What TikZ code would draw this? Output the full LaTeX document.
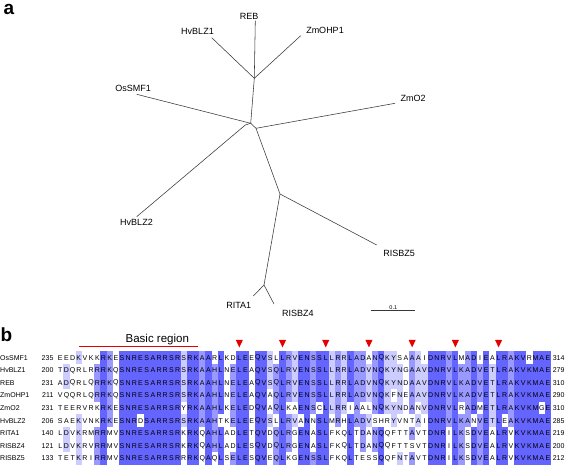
\documentclass[tikz,border=0pt]{standalone}
\usepackage{fontspec}
\setmainfont{Liberation Sans}
\definecolor{aldark}{RGB}{100,100,255}
\definecolor{almid}{RGB}{153,153,255}
\definecolor{allight}{RGB}{204,204,255}
\definecolor{treeline}{RGB}{55,55,55}
\definecolor{markred}{RGB}{230,0,0}
\tikzset{
  leaflabel/.style={font=\fontsize{9}{10}\selectfont, inner sep=0pt},
  branch/.style={draw=treeline, line width=0.55pt},
  alres/.style={font=\fontsize{7}{8}\selectfont, inner sep=0pt},
  alname/.style={font=\fontsize{7}{8}\selectfont, inner sep=0pt, anchor=west},
  alnum/.style={font=\fontsize{7}{8}\selectfont, inner sep=0pt},
  panel/.style={font=\fontsize{19}{21}\selectfont\bfseries, inner sep=0pt, anchor=base west, text height=0.56em},
}
\newcommand\AlCell[3]{\fill[#3] ({60.3+(#2-1)*6.173-3.09},{351.4+(#1-1)*12.6}) rectangle ++(6.19,12.62);}
\newcommand\AlLetter[3]{\node[alres] (r#1c#2) at ({60.3+(#2-1)*6.173},{357.7+(#1-1)*12.6}) {#3};}
\ExplSyntaxOn
\int_new:N \l_al_cnt_int
\int_new:N \l_al_max_int
\int_new:N \g_al_nrows_int
\cs_new_protected:Npn \al_addrow:n #1
 {
  \int_gincr:N \g_al_nrows_int
  \tl_gset:cn { g_al_row_ \int_use:N \g_al_nrows_int _tl } {#1}
 }
\cs_new:Npn \al_ch:nn #1#2 { \exp_args:Nc \str_item:Nn { g_al_row_ #1 _tl } {#2} }
\cs_new_protected:Npn \al_count:nn #1#2
 {
  \int_zero:N \l_al_cnt_int
  \int_step_inline:nn { \g_al_nrows_int }
   {
    \str_if_eq:eeTF { \al_ch:nn {##1} {#2} } { \al_ch:nn {#1} {#2} }
     { \int_incr:N \l_al_cnt_int } { }
   }
 }
\cs_new_protected:Npn \al_draw:n #1
 {
  \int_step_inline:nn {#1}
   {
    \int_zero:N \l_al_max_int
    \int_step_inline:nn { \g_al_nrows_int }
     {
      \al_count:nn {####1} {##1}
      \int_compare:nNnT { \l_al_cnt_int } > { \l_al_max_int }
       { \int_set_eq:NN \l_al_max_int \l_al_cnt_int }
     }
    \int_step_inline:nn { \g_al_nrows_int }
     {
      \al_count:nn {####1} {##1}
      \int_compare:nNnT { \l_al_cnt_int } = { \l_al_max_int }
       {
        \int_compare:nNnTF { \l_al_max_int } > { 7 }
         { \AlCell {####1} {##1} {aldark} }
         {
          \int_compare:nNnTF { \l_al_max_int } > { 5 }
           { \AlCell {####1} {##1} {almid} }
           {
            \int_compare:nNnT { \l_al_max_int } > { 3 }
             { \AlCell {####1} {##1} {allight} }
           }
         }
       }
     }
   }
  \int_step_inline:nn {#1}
   {
    \int_step_inline:nn { \g_al_nrows_int }
     { \AlLetter {####1} {##1} { \al_ch:nn {####1} {##1} } }
   }
 }
\cs_new_eq:NN \AlAddRow \al_addrow:n
\cs_new_eq:NN \AlDraw \al_draw:n
\ExplSyntaxOff
\AlAddRow{EEDKVKKRKESNRESARRSRSRKAARLKDLEEQVSLLRVENSSLLRRLADANQKYSAAAIDNRVLMADIEALRAKVRMAE}
\AlAddRow{TDQRLRRRKQSNRESARRSRSRKAAHLNELEAQVSQLRVENSSLLRRLADVNQKYNGAAVDNRVLKADVETLRAKVKMAE}
\AlAddRow{ADQRLQRRKQSNRESARRSRSRKAAHLNELEAQVSQLRVENSSLLRRLADVNQKYNDAAVDNRVLKADVETLRAKVKMAE}
\AlAddRow{VQQRLQRRKQSNRESARRSRSRKAAHLNELEAQVAQLRVENSSLLRRLADVNQKFNEAAVDNRVLKADVETLRAKVKMAE}
\AlAddRow{TEERVRKRKESNRESARRSRYRKAAHLKELEDQVAQLKAENSCLLRRIAALNQKYNDANVDNRVLRADMETLRAKVKMGE}
\AlAddRow{SAEKVNKRKESNRDSARRSRSRKAAHTKELEEQVSLLRVANNSLMRHLADVSHRYVNTAIDNRVLKANVETLEAKVKMAE}
\AlAddRow{LDVKRMRRMVSNRESARRSRKRKQAHLADLETQVDQLRGENASLFKQLTDANQQFTTAVTDNRILKSDVEALRVKVKMAE}
\AlAddRow{LDVKRVRRMVSNRESARRSRKRKQAHLADLESQVDQLRGENASLFKQLTDANQQFTTSVTDNRILKSDVEALRVKVKMAE}
\AlAddRow{TETKRIRRMVSNRESARRSRRRKQAQLSELESQVEQLKGENSSLFKQLTESSQQFNTAVTDNRILKSDVEALRVKVKMAE}
\begin{document}
\begin{tikzpicture}[x=1pt,y=-1pt]
\useasboundingbox[fill=white] (0,0) rectangle (567,466);
% ---------- panel a: tree ----------
\node[panel] (pa) at (3.5,14.5) {a};
\coordinate (nA) at (254.3,78.3);
\coordinate (nB) at (250.7,123.3);
\coordinate (nB2) at (245.3,125.0);
\coordinate (nC) at (256.0,128.3);
\coordinate (nD) at (280.0,194.0);
\coordinate (nE) at (264.0,285.0);
\coordinate (tREB) at (255.3,20.7);
\coordinate (tHvBLZ1) at (211.7,37.7);
\coordinate (tZmOHP1) at (300.7,35.7);
\coordinate (tOsSMF1) at (136.7,94.3);
\coordinate (tHvBLZ2) at (136.7,216.7);
\coordinate (tZmO2) at (395.0,103.3);
\coordinate (tRISBZ5) at (376.7,245.0);
\coordinate (tRITA1) at (253.3,296.0);
\coordinate (tRISBZ4) at (274.0,304.0);
\draw[branch] (nA) -- (tREB);
\draw[branch] (nA) -- (tHvBLZ1);
\draw[branch] (nA) -- (tZmOHP1);
\draw[branch] (nA) -- (nB);
\draw[branch] (nB) -- (tOsSMF1);
\draw[branch] (nB) -- (nB2) -- (tHvBLZ2);
\draw[branch] (nB) -- (nC);
\draw[branch] (nC) -- (tZmO2);
\draw[branch] (nC) -- (nD);
\draw[branch] (nD) -- (tRISBZ5);
\draw[branch] (nD) -- (nE);
\draw[branch] (nE) -- (tRITA1);
\draw[branch] (nE) -- (tRISBZ4);
\node[leaflabel] (lREB) at (249.2,16) {REB};
\node[leaflabel] (lHvBLZ1) at (197.5,31.7) {HvBLZ1};
\node[leaflabel] (lZmOHP1) at (325,30.5) {ZmOHP1};
\node[leaflabel] (lOsSMF1) at (133.2,88.3) {OsSMF1};
\node[leaflabel] (lHvBLZ2) at (136.5,222) {HvBLZ2};
\node[leaflabel] (lZmO2) at (413,98.3) {ZmO2};
\node[leaflabel] (lRISBZ5) at (399.2,253.3) {RISBZ5};
\node[leaflabel] (lRITA1) at (238.8,305) {RITA1};
\node[leaflabel] (lRISBZ4) at (297.8,313) {RISBZ4};
\coordinate (sb1) at (370.7,310.7);
\coordinate (sb2) at (415,310.7);
\draw[branch] (sb1) -- (sb2);
\node[font=\fontsize{5.5}{6}\selectfont, inner sep=0pt] (sbl) at (393.3,307.2) {0.1};
% ---------- panel b: alignment ----------
\node[panel] (pb) at (0.5,341.7) {b};
\node[font=\fontsize{11.5}{13}\selectfont, inner sep=0pt, anchor=base] (basic) at (157.3,342) {Basic region};
\coordinate (br1) at (79,346.7);
\coordinate (br2) at (198.3,346.7);
\draw[markred, line width=1pt] (br1) -- (br2);
\foreach \c in {30,37,44,51,58,65,72}
  \fill[markred] ({60.3+(\c-1)*6.173-3.6},339.8) -- ++(7.2,0) -- ({60.3+(\c-1)*6.173},347.4) -- cycle;
\AlDraw{80}
\foreach \nm/\s/\e [count=\i] in {OsSMF1/235/314, HvBLZ1/200/279, REB/231/310, ZmOHP1/211/290, ZmO2/231/310, HvBLZ2/206/285, RITA1/140/219, RISBZ4/121/200, RISBZ5/133/212}{
  \node[alname] (nm\i) at (0,{357.7+(\i-1)*12.6}) {\nm};
  \node[alnum, anchor=east] (st\i) at (53.6,{357.7+(\i-1)*12.6}) {\s};
  \node[alnum, anchor=west] (en\i) at (552.6,{357.7+(\i-1)*12.6}) {\e};
}
\end{tikzpicture}
\end{document}
